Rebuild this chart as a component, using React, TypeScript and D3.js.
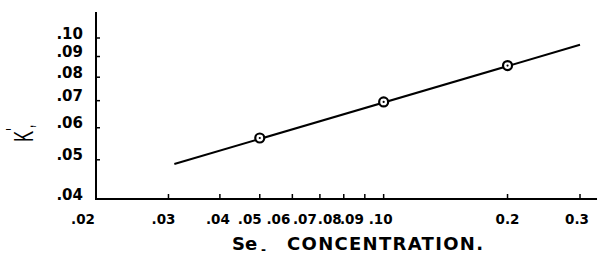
import React from "react";
import * as d3 from "d3";

// Data
const pointX = [0.05, 0.1, 0.2];
const pointY = [0.0566, 0.0695, 0.0855];
const lineX = [0.031, 0.3];
const lineY = [0.0488, 0.0962];
const xTickValues = [0.02, 0.03, 0.04, 0.05, 0.06, 0.07, 0.08, 0.09, 0.1, 0.2, 0.3];
const xTickLabels = [".02", ".03", ".04", ".05", ".06", ".07", ".08", ".09", ".10", "0.2", "0.3"];
const yTickValues = [0.04, 0.05, 0.06, 0.07, 0.08, 0.09, 0.1];
const yTickLabels = [".04", ".05", ".06", ".07", ".08", ".09", ".10"];

// Layout of hand-lettered label offsets (style, not data)
const xLabelAnchor: Record<string, [string, number]> = {
  ".02": ["middle", -13],
  ".03": ["middle", -5],
  ".04": ["middle", -2],
  ".05": ["end", 2],
  ".06": ["end", -2],
  ".07": ["end", -3],
  ".08": ["end", -2],
  ".09": ["end", -1],
  ".10": ["start", -15],
  "0.2": ["middle", 0],
  "0.3": ["middle", -3],
};

export default function App() {
  const W = 598, H = 256;
  const x = d3.scaleLog().domain([0.02, 0.3]).range([96, 580]);
  const y = d3.scaleLog().domain([0.04, 0.1]).range([199, 38]);
  const xEnd = x(0.33);
  const yTop = y(0.116);
  const line = d3
    .line<number>()
    .x((_, i) => x(lineX[i]))
    .y((d) => y(d));
  const tickFont = "'DejaVu Sans', sans-serif";
  return (
    <svg
      width={W}
      height={H}
      style={{ position: "absolute", left: 0, top: 0, background: "#fff" }}
    >
      <rect width={W} height={H} fill="#fff" />
      {/* axes */}
      <line x1={x(0.02)} x2={x(0.02)} y1={yTop} y2={y(0.04)} stroke="#000" strokeWidth={2} />
      <line x1={x(0.02) - 1} x2={xEnd} y1={y(0.04)} y2={y(0.04)} stroke="#000" strokeWidth={2} />
      {/* y ticks */}
      {yTickValues.map((v, i) => (
        <g key={"y" + i}>
          {i > 0 && (
            <line x1={x(0.02)} x2={x(0.02) + 4} y1={y(v)} y2={y(v)} stroke="#000" strokeWidth={1.5} />
          )}
          <text
            x={83}
            y={y(v) - 4}
            textAnchor="end"
            dominantBaseline="middle"
            fontFamily={tickFont}
            fontWeight="bold"
            fontSize={15}
            fill="#000"
          >
            {yTickLabels[i]}
          </text>
        </g>
      ))}
      {/* x ticks */}
      {xTickValues.map((v, i) => {
        const lab = xTickLabels[i];
        const [anchor, dx] = xLabelAnchor[lab] || ["middle", 0];
        return (
          <g key={"x" + i}>
            {i > 0 && (
              <line x1={x(v)} x2={x(v)} y1={y(0.04)} y2={y(0.04) - 5} stroke="#000" strokeWidth={1.5} />
            )}
            <text
              x={x(v) + dx}
              y={224}
              textAnchor={anchor}
              fontFamily={tickFont}
              fontWeight="bold"
              fontSize={13.5}
              fill="#000"
            >
              {lab}
            </text>
          </g>
        );
      })}
      {/* fitted line */}
      <path d={line(lineY) || ""} fill="none" stroke="#000" strokeWidth={2} />
      {/* points */}
      {pointX.map((px, i) => (
        <g key={"p" + i}>
          <circle cx={x(px)} cy={y(pointY[i])} r={4.5} fill="#fff" stroke="#000" strokeWidth={2.2} />
          <circle cx={x(px)} cy={y(pointY[i])} r={1.1} fill="#000" />
        </g>
      ))}
      {/* x title */}
      <text x={232} y={250} fontFamily={tickFont} fontWeight="bold" fontSize={18} fill="#000">
        Se
      </text>
      <text x={261} y={254} fontFamily={tickFont} fontWeight="bold" fontSize={12} fill="#000">
        -
      </text>
      <text
        x={287}
        y={250}
        fontFamily={tickFont}
        fontWeight="bold"
        fontSize={18}
        fill="#000"
        textLength={196}
        lengthAdjust="spacing"
      >
        CONCENTRATION.
      </text>
      {/* y title */}
      <g transform={`translate(33,142) rotate(-90)`}>
        <text
          x={0}
          y={0}
          fontFamily="'Liberation Sans', Arial, sans-serif"
          fontSize={28}
          fill="#000"
          transform="scale(0.6,1)"
        >
          K
          <tspan dy={-12} fontSize={22}>'</tspan>
          <tspan dy={12} fontSize={22}>,</tspan>
        </text>
      </g>
    </svg>
  );
}
